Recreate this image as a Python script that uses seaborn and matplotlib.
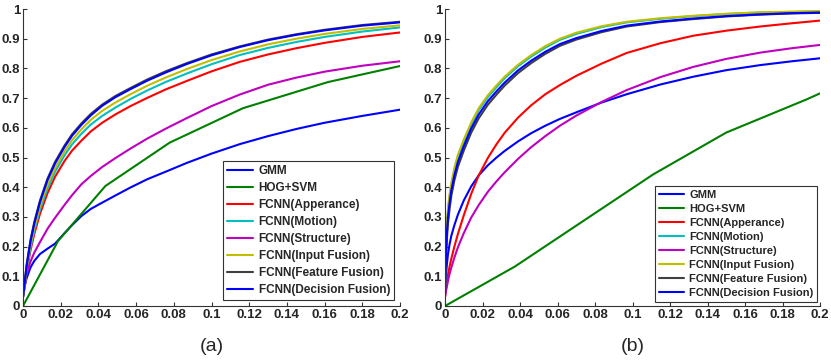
import pandas as pd
import matplotlib.pyplot as plt
import seaborn as sns

# ROC-style curves
methods = ["GMM", "HOG+SVM", "FCNN(Apperance)", "FCNN(Motion)", "FCNN(Structure)",
           "FCNN(Input Fusion)", "FCNN(Feature Fusion)", "FCNN(Decision Fusion)"]
colors = ["#0000ff", "#008000", "#ff0000", "#00bfbf", "#bf00bf", "#bfbf00", "#404040", "#0000ff"]

# panel (a)
xa = [0, 0.001, 0.002, 0.004, 0.006, 0.009, 0.013, 0.017, 0.022, 0.026, 0.031, 0.036, 0.042,
      0.049, 0.057, 0.066, 0.076, 0.087, 0.1, 0.115, 0.13, 0.145, 0.16, 0.18, 0.2]
a_gmm = [0.03, 0.07, 0.095, 0.13, 0.152, 0.175, 0.193, 0.21, 0.245, 0.272, 0.303, 0.327, 0.348,
         0.372, 0.399, 0.427, 0.453, 0.482, 0.513, 0.545, 0.572, 0.596, 0.617, 0.64, 0.661]
a_hog_x = [0, 0.0186, 0.0437, 0.0778, 0.1167, 0.1618, 0.2]
a_hog = [0, 0.219, 0.404, 0.55, 0.666, 0.754, 0.808]
a_app = [0.03, 0.07, 0.118, 0.188, 0.243, 0.31, 0.38, 0.435, 0.488, 0.523, 0.557, 0.588, 0.617,
         0.645, 0.673, 0.701, 0.73, 0.758, 0.79, 0.822, 0.847, 0.868, 0.886, 0.906, 0.921]
a_mot = [0.03, 0.075, 0.125, 0.198, 0.255, 0.325, 0.396, 0.452, 0.507, 0.544, 0.58, 0.611, 0.64,
         0.668, 0.697, 0.726, 0.755, 0.783, 0.814, 0.845, 0.869, 0.889, 0.906, 0.924, 0.938]
a_str = [0.05, 0.085, 0.11, 0.15, 0.18, 0.215, 0.26, 0.297, 0.34, 0.373, 0.41, 0.438, 0.468,
         0.498, 0.53, 0.564, 0.598, 0.633, 0.673, 0.712, 0.745, 0.769, 0.789, 0.809, 0.824]
a_inp = [0.03, 0.078, 0.13, 0.207, 0.265, 0.336, 0.408, 0.464, 0.52, 0.558, 0.595, 0.627, 0.657,
         0.685, 0.713, 0.742, 0.77, 0.798, 0.828, 0.857, 0.881, 0.9, 0.916, 0.933, 0.945]
a_fea = [0.035, 0.088, 0.143, 0.223, 0.283, 0.355, 0.429, 0.485, 0.54, 0.578, 0.615, 0.647, 0.678,
         0.707, 0.734, 0.763, 0.791, 0.818, 0.847, 0.874, 0.897, 0.915, 0.93, 0.946, 0.957]
a_dec = [0.03, 0.083, 0.138, 0.218, 0.278, 0.35, 0.424, 0.48, 0.535, 0.573, 0.61, 0.642, 0.674,
         0.703, 0.73, 0.759, 0.787, 0.815, 0.844, 0.872, 0.895, 0.913, 0.928, 0.944, 0.955]

# panel (b)
xb = [0, 0.0005, 0.001, 0.0016, 0.0025, 0.0034, 0.005, 0.0069, 0.01, 0.014, 0.018, 0.0229, 0.0275,
      0.0318, 0.0389, 0.046, 0.0535, 0.0613, 0.07, 0.0835, 0.0969, 0.115, 0.1324, 0.15, 0.168, 0.185, 0.2]
b_gmm = [0.05, 0.1, 0.14, 0.175, 0.21, 0.237, 0.272, 0.308, 0.355, 0.403, 0.44, 0.474, 0.5,
         0.522, 0.554, 0.582, 0.607, 0.63, 0.652, 0.685, 0.713, 0.746, 0.772, 0.794, 0.811, 0.824, 0.834]
b_hog_x = [0, 0.0373, 0.111, 0.150, 0.193, 0.2]
b_hog = [0, 0.133, 0.443, 0.584, 0.696, 0.716]
b_app = [0.03, 0.055, 0.08, 0.105, 0.135, 0.16, 0.2, 0.243, 0.305, 0.378, 0.44, 0.499, 0.545,
         0.583, 0.634, 0.676, 0.713, 0.744, 0.775, 0.816, 0.852, 0.885, 0.91, 0.927, 0.941, 0.952, 0.961]
b_mot = [0.05, 0.19, 0.265, 0.32, 0.37, 0.406, 0.456, 0.502, 0.552, 0.611, 0.66, 0.704, 0.737,
         0.767, 0.807, 0.84, 0.87, 0.896, 0.916, 0.939, 0.955, 0.967, 0.976, 0.983, 0.988, 0.99, 0.992]
b_str = [0.03, 0.05, 0.065, 0.085, 0.11, 0.13, 0.163, 0.198, 0.245, 0.298, 0.34, 0.385, 0.42,
         0.45, 0.495, 0.535, 0.572, 0.607, 0.641, 0.687, 0.727, 0.771, 0.805, 0.832, 0.853, 0.868, 0.879]
b_inp = [0.05, 0.2, 0.275, 0.33, 0.38, 0.415, 0.465, 0.51, 0.56, 0.618, 0.666, 0.71, 0.743,
         0.772, 0.812, 0.845, 0.875, 0.9, 0.92, 0.942, 0.957, 0.969, 0.977, 0.984, 0.989, 0.991, 0.993]
b_fea = [0.045, 0.15, 0.225, 0.28, 0.33, 0.372, 0.423, 0.469, 0.523, 0.584, 0.632, 0.678, 0.712,
         0.742, 0.784, 0.818, 0.849, 0.876, 0.897, 0.922, 0.941, 0.956, 0.966, 0.975, 0.981, 0.985, 0.987]
b_dec = [0.05, 0.17, 0.245, 0.30, 0.35, 0.39, 0.44, 0.485, 0.538, 0.598, 0.645, 0.69, 0.723,
         0.752, 0.793, 0.826, 0.856, 0.882, 0.902, 0.926, 0.944, 0.958, 0.968, 0.976, 0.982, 0.986, 0.988]


def long_df(x, hog_x, series):
    rows = []
    for name, ys in zip(methods, series):
        xs = hog_x if name == "HOG+SVM" else x
        for xv, yv in zip(xs, ys):
            rows.append({"fpr": xv, "tpr": yv, "method": name})
    return pd.DataFrame(rows)


df_a = long_df(xa, a_hog_x, [a_gmm, a_hog, a_app, a_mot, a_str, a_inp, a_fea, a_dec])
df_b = long_df(xb, b_hog_x, [b_gmm, b_hog, b_app, b_mot, b_str, b_inp, b_fea, b_dec])

sns.set_style("ticks")
plt.rcParams['font.family'] = ['Liberation Sans', 'DejaVu Sans']

fig = plt.figure(figsize=(8.31, 3.6), dpi=100)
ax_a = fig.add_axes([23 / 831, 54 / 360, 377 / 831, 297 / 360])
ax_b = fig.add_axes([445 / 831, 54 / 360, 375 / 831, 297 / 360])

panels = [(ax_a, df_a, "(a)", 8.5, (0.985, 0.02), 0.42),
          (ax_b, df_b, "(b)", 8.0, (0.993, 0.013), 0.36)]
for ax, df, tag, lfs, anchor, spacing in panels:
    for name, col in zip(methods, colors):
        sub = df[df["method"] == name]
        sns.lineplot(data=sub, x="fpr", y="tpr", ax=ax, color=col, lw=1.5,
                     estimator=None, sort=False, label=name)
    ax.set_xlim(0, 0.2)
    ax.set_ylim(0, 1)
    ax.set_xticks([i * 0.02 for i in range(11)])
    ax.set_yticks([i * 0.1 for i in range(11)])
    ax.set_xticklabels([f"{i * 0.02:g}" for i in range(11)])
    ax.set_yticklabels([f"{i * 0.1:g}" for i in range(11)])
    ax.set_xlabel("")
    ax.set_ylabel("")
    for lab in ax.get_xticklabels() + ax.get_yticklabels():
        lab.set_fontweight("bold")
        lab.set_fontsize(9.5)
    ax.tick_params(direction="in", length=3, width=0.8, pad=2, color="#333333")
    sns.despine(ax=ax)
    for s in ["left", "bottom"]:
        ax.spines[s].set_linewidth(0.8)
        ax.spines[s].set_color("#333333")
    leg = ax.legend(loc="lower right", bbox_to_anchor=anchor, fancybox=False, framealpha=1,
                    edgecolor="#333333", prop={"weight": "bold", "size": lfs},
                    handlelength=2.2, handletextpad=0.5, labelspacing=spacing,
                    borderpad=0.35, borderaxespad=0)
    leg.get_frame().set_linewidth(0.8)
    ax.text(0.5, -0.135, tag, transform=ax.transAxes, ha="center", va="center", fontsize=14)

plt.savefig("out.png", dpi=100)
